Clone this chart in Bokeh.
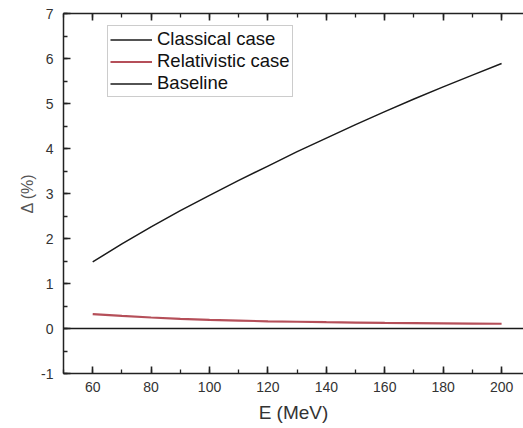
from bokeh.plotting import figure
from bokeh.models import (Range1d, SingleIntervalTicker, LinearAxis, Legend, LegendItem,
                          CustomJSTickFormatter)
from bokeh.embed import file_html
from bokeh.resources import INLINE

# Data
energy = [60, 70, 80, 90, 100, 110, 120, 130, 140, 150, 160, 170, 180, 190, 200]
classical = [1.48, 1.88, 2.26, 2.62, 2.96, 3.29, 3.61, 3.93, 4.23, 4.53, 4.82, 5.10, 5.37, 5.63, 5.89]
relativistic = [0.32, 0.28, 0.245, 0.215, 0.19, 0.175, 0.16, 0.15, 0.14, 0.132, 0.125, 0.12, 0.115, 0.11, 0.105]
baseline_E = [50, 210]
baseline_delta = [0, 0]

FONT = "Liberation Sans"

p = figure(width=523, height=428, output_backend="svg", toolbar_location=None,
           x_range=Range1d(50, 207.5), y_range=Range1d(-1, 7),
           min_border_left=63, min_border_right=0, min_border_top=13, min_border_bottom=55,
           x_axis_label="E (MeV)", y_axis_label="\u0394 (%)")
p.background_fill_color = "white"
p.border_fill_color = "white"
p.grid.visible = False
p.outline_line_color = None

p.xaxis.ticker = SingleIntervalTicker(interval=20, num_minor_ticks=2)
p.yaxis.ticker = SingleIntervalTicker(interval=1, num_minor_ticks=2)
p.yaxis.formatter = CustomJSTickFormatter(code="return String(tick)")


def style_axis(ax):
    ax.axis_line_color = "#222222"
    ax.axis_line_width = 1.5
    ax.major_tick_in = 7
    ax.major_tick_out = 0
    ax.minor_tick_in = 4
    ax.minor_tick_out = 0
    ax.major_tick_line_color = "#222222"
    ax.minor_tick_line_color = "#222222"
    ax.major_tick_line_width = 1.6
    ax.minor_tick_line_width = 1.3


for ax in [p.xaxis[0], p.yaxis[0]]:
    style_axis(ax)
    ax.major_label_text_font = FONT
    ax.major_label_text_font_size = "14px"
    ax.major_label_text_color = "#333333"
    ax.axis_label_text_font = FONT
    ax.axis_label_text_font_style = "normal"
    ax.axis_label_text_color = "#333333"

p.xaxis.major_label_standoff = 8
p.xaxis.axis_label_standoff = 7
p.xaxis.axis_label_text_font_size = "19px"
p.yaxis.major_label_standoff = 10
p.yaxis.axis_label_standoff = 2
p.yaxis.axis_label_text_font_size = "16px"
p.yaxis.axis_label_text_color = "#555555"

top = LinearAxis(ticker=SingleIntervalTicker(interval=20, num_minor_ticks=2),
                 formatter=CustomJSTickFormatter(code="return ''"))
style_axis(top)
top.major_label_standoff = 0
p.add_layout(top, "above")

r_base = p.line(baseline_E, baseline_delta, line_color="#1a1a1a", line_width=1.5)
r_cls = p.line(energy, classical, line_color="#1a1a1a", line_width=1.5)
r_rel = p.line(energy, relativistic, line_color="#a8303c", line_width=2.2, line_alpha=0.85)

legend = Legend(items=[
    LegendItem(label="Classical case", renderers=[r_cls]),
    LegendItem(label="Relativistic case", renderers=[r_rel]),
    LegendItem(label="Baseline", renderers=[r_base]),
], location=(44, 276))
legend.border_line_color = "#999999"
legend.border_line_width = 1
legend.background_fill_color = "white"
legend.label_text_font = FONT
legend.label_text_font_size = "18.5px"
legend.label_text_color = "#111111"
legend.glyph_width = 42
legend.glyph_height = 21
legend.label_height = 21
legend.spacing = 0
legend.padding = 2
legend.margin = 0
legend.label_standoff = 5
p.add_layout(legend, "center")

open("out.html", "w").write(file_html(p, INLINE))
